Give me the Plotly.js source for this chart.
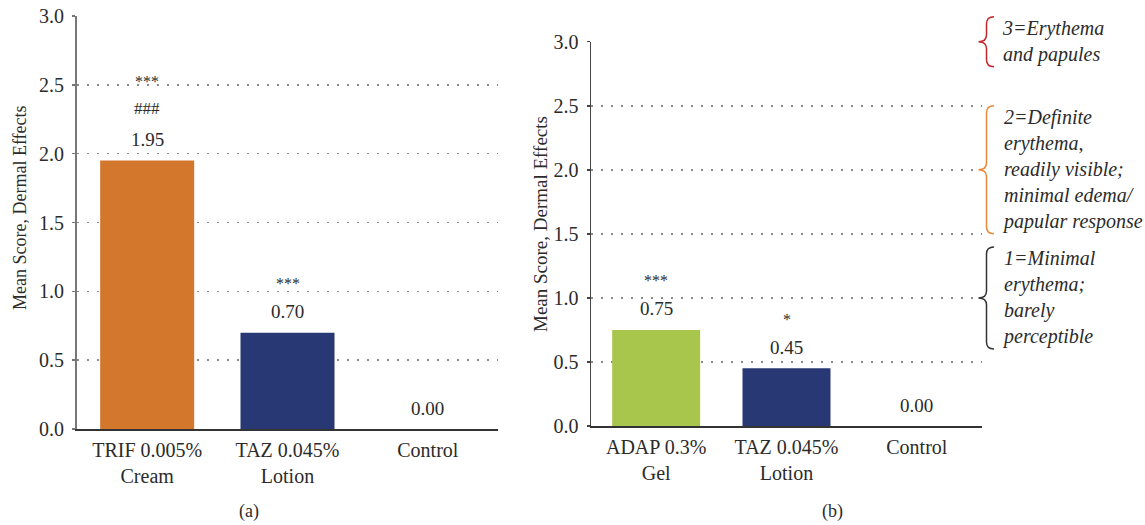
<!DOCTYPE html>
<html>
<head>
<meta charset="utf-8">
<script src="https://cdn.plot.ly/plotly-3.0.1.min.js"></script>
<style>html,body{margin:0;padding:0;background:#fff;}#chart{width:1145px;height:525px;}</style>
</head>
<body>
<div id="chart"></div>
<script>
// ---- data ----
const categoriesA = ['TRIF 0.005%<br>Cream', 'TAZ 0.045%<br>Lotion', 'Control'];
const valuesA = [1.95, 0.70, 0.00];
const hashA = ['###', '', ''];
const starsA = ['***', '***', ''];

const categoriesB = ['ADAP 0.3%<br>Gel', 'TAZ 0.045%<br>Lotion', 'Control'];
const valuesB = [0.75, 0.45, 0.00];
const starsB = ['***', '*', ''];

const yTickVals = [0, 0.5, 1.0, 1.5, 2.0, 2.5, 3.0];
const yTickText = ['0.0', '0.5', '1.0', '1.5', '2.0', '2.5', '3.0'];

const scaleLevels = [3, 2, 1];
const scaleTexts = [
  '3=Erythema<br>and papules',
  '2=Definite<br>erythema,<br>readily visible;<br>minimal edema/<br>papular response',
  '1=Minimal<br>erythema;<br>barely<br>perceptible'
];
const yTitle = 'Mean Score, Dermal Effects';
const panelLabels = ['(a)', '(b)'];

// ---- styles ----
const W = 1145, H = 525;
const FONT = '"Liberation Serif", "Times New Roman", Times, serif';
const TXT = '#2b2b2b';
const colorsA = ['#D2772C', '#283874', '#283874'];
const colorsB = ['#A8C54C', '#283874', '#283874'];
const braceColors = ['#C1272D', '#E8893A', '#333333'];

const px = x => x / W;
const py = y => 1 - y / H;

// panel geometry (pixels)
const A = {x0: 77, x1: 498, yTop: 16, yBot: 429};
const B = {x0: 591, x1: 982, yTop: 41.7, yBot: 426};
const yMax = 3;

function yAxis(g, anchor, lineColor, lineWidth) {
  return {
    domain: [py(g.yBot), py(g.yTop)], range: [0, yMax], anchor: anchor,
    tickvals: yTickVals, ticktext: yTickText,
    ticks: 'outside', ticklen: 3, tickwidth: 1.5, tickcolor: lineColor,
    ticklabelstandoff: 4,
    showline: true, linecolor: lineColor, linewidth: lineWidth,
    showgrid: true, gridcolor: '#8a8a8a', gridwidth: 1.5, griddash: '1.5px,8.5px',
    zeroline: false, tickfont: {family: FONT, size: 20, color: TXT},
    fixedrange: true
  };
}
function xAxis(g, anchor, cats, lineColor, lineWidth) {
  return {
    domain: [px(g.x0), px(g.x1)], anchor: anchor, type: 'category',
    categoryorder: 'array', categoryarray: cats, range: [-0.5, 2.5],
    showline: true, linecolor: lineColor, linewidth: lineWidth,
    ticks: '', showgrid: false, zeroline: false,
    tickfont: {family: FONT, size: 20, color: TXT}, ticklabelstandoff: 2,
    fixedrange: true
  };
}

const traces = [
  {type: 'bar', x: categoriesA, y: valuesA, xaxis: 'x', yaxis: 'y',
   marker: {color: colorsA}, width: 0.67, hoverinfo: 'none'},
  {type: 'bar', x: categoriesB, y: valuesB, xaxis: 'x2', yaxis: 'y2',
   marker: {color: colorsB}, width: 0.675, hoverinfo: 'none'}
];

const annotations = [];
function addLabels(cats, vals, xr, yr, rows) {
  cats.forEach((c, i) => {
    annotations.push({x: c, y: vals[i], xref: xr, yref: yr, text: vals[i].toFixed(2),
      showarrow: false, yanchor: 'middle', yshift: 21,
      font: {family: FONT, size: 19, color: TXT}});
    let k = 0;
    rows.forEach(row => {
      const t = row[i];
      if (!t) return;
      const isStar = t.indexOf('*') >= 0;
      annotations.push({x: c, y: vals[i], xref: xr, yref: yr, text: t,
        showarrow: false, yanchor: 'middle', yshift: (k === 0 ? 52 : 82) - (isStar ? 3 : 0),
        font: {family: FONT, size: isStar ? 16 : 17, color: TXT}});
      k++;
    });
  });
}
addLabels(categoriesA, valuesA, 'x', 'y', [hashA, starsA]);
addLabels(categoriesB, valuesB, 'x2', 'y2', [starsB]);

// y titles
annotations.push({x: px(20.5), y: py(207.5), xref: 'paper', yref: 'paper', text: yTitle,
  textangle: -90, showarrow: false, xanchor: 'center', yanchor: 'middle',
  font: {family: FONT, size: 18, color: TXT}});
annotations.push({x: px(540), y: py(224), xref: 'paper', yref: 'paper', text: yTitle,
  textangle: -90, showarrow: false, xanchor: 'center', yanchor: 'middle',
  font: {family: FONT, size: 19, color: TXT}});
// panel labels
annotations.push({x: px(248.5), y: py(511), xref: 'paper', yref: 'paper', text: panelLabels[0],
  showarrow: false, xanchor: 'center', yanchor: 'middle', font: {family: FONT, size: 18, color: TXT}});
annotations.push({x: px(832), y: py(511), xref: 'paper', yref: 'paper', text: panelLabels[1],
  showarrow: false, xanchor: 'center', yanchor: 'middle', font: {family: FONT, size: 18, color: TXT}});

// braces and scale texts, placed at the score level of the right panel
const shapes = [];
const yB = v => B.yBot - (B.yBot - B.yTop) * v / yMax;   // value -> pixel (right panel)
scaleLevels.forEach((lv, i) => {
  const nLines = scaleTexts[i].split('<br>').length;
  const half = nLines * 13 - 1;
  const tip = yB(lv), top = tip - half, bot = tip + half;
  const tipX = 978.5, armX = 986.5, endX = 994, r = 7;
  const P = (x, y) => px(x) + ',' + py(y);
  const path = 'M' + P(endX, top) + ' Q' + P(armX, top) + ' ' + P(armX, top + r) +
    ' L' + P(armX, tip - r) + ' Q' + P(armX, tip) + ' ' + P(tipX, tip) +
    ' Q' + P(armX, tip) + ' ' + P(armX, tip + r) +
    ' L' + P(armX, bot - r) + ' Q' + P(armX, bot) + ' ' + P(endX, bot);
  shapes.push({type: 'path', xref: 'paper', yref: 'paper', path: path,
    line: {color: braceColors[i], width: 1.5}});
  annotations.push({x: px(1000), y: py(tip), xref: 'paper', yref: 'paper', text: scaleTexts[i],
    showarrow: false, xanchor: 'left', yanchor: 'middle', align: 'left',
    font: {family: FONT, size: 20, color: TXT, style: 'italic'}});
});

const layout = {
  width: W, height: H, margin: {l: 0, r: 0, t: 0, b: 0},
  paper_bgcolor: '#fff', plot_bgcolor: 'rgba(0,0,0,0)',
  showlegend: false, bargap: 0.33,
  xaxis: xAxis(A, 'y', categoriesA, '#333', 2),
  yaxis: yAxis(A, 'x', '#777', 2),
  xaxis2: xAxis(B, 'y2', categoriesB, '#333', 1.5),
  yaxis2: yAxis(B, 'x2', '#444', 1.5),
  annotations: annotations, shapes: shapes,
  font: {family: FONT, color: TXT}
};

Plotly.newPlot('chart', traces, layout, {displayModeBar: false, staticPlot: true});
</script>
</body>
</html>
